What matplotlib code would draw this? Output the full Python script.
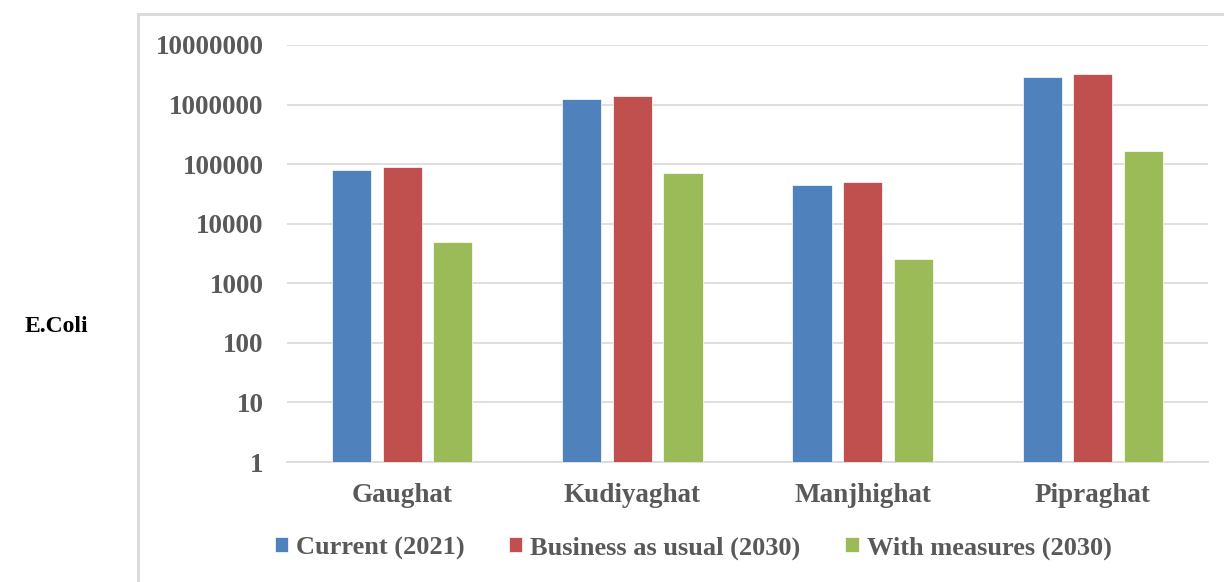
import matplotlib.pyplot as plt
import numpy as np
from matplotlib.ticker import FixedLocator, FixedFormatter

# data
sites = ['Gaughat', 'Kudiyaghat', 'Manjhighat', 'Pipraghat']
series_names = ['Current (2021)', 'Business as usual (2030)', 'With measures (2030)']
current_2021 = [80000, 1240000, 45000, 2900000]
bau_2030 = [90000, 1380000, 50000, 3200000]
measures_2030 = [4900, 71000, 2600, 166000]
y_ticks = [1, 10, 100, 1000, 10000, 100000, 1000000, 10000000]

colors = ['#4F81BD', '#C0504D', '#9BBB59']
text_gray = '#595959'
grid_gray = '#d9d9d9'

plt.rcParams['font.family'] = ['Liberation Serif', 'DejaVu Serif']
plt.rcParams['font.weight'] = 'bold'

fig = plt.figure(figsize=(12.24, 5.82), dpi=100)
ax = fig.add_axes([287 / 1224, 1 - 462 / 582, (1208 - 287) / 1224, (462 - 45) / 582])

x = np.arange(len(sites))
width = 0.17
offsets = [-0.22, 0.0, 0.22]
all_series = [current_2021, bau_2030, measures_2030]
for vals, off, col, name in zip(all_series, offsets, colors, series_names):
    ax.bar(x + off, vals, width, color=col, label=name, edgecolor='white', linewidth=0.5, zorder=3)

ax.set_yscale('log')
ax.set_ylim(1, 10000000)
ax.set_xlim(-0.5, 3.5)
ax.yaxis.set_major_locator(FixedLocator(y_ticks))
ax.yaxis.set_major_formatter(FixedFormatter([str(t) for t in y_ticks]))
ax.yaxis.set_minor_locator(FixedLocator([]))
ax.grid(axis='y', color=grid_gray, linewidth=1.2, zorder=0)
ax.set_xticks(x)
ax.set_xticklabels(sites)

for s in ['top', 'right', 'left']:
    ax.spines[s].set_visible(False)
ax.spines['bottom'].set_color(grid_gray)
ax.spines['bottom'].set_linewidth(1.2)
ax.tick_params(axis='both', length=0, labelsize=19.5, labelcolor=text_gray)
ax.tick_params(axis='y', pad=17)
ax.tick_params(axis='x', pad=15)

fig.legend(loc='center', bbox_to_anchor=(693 / 1224, 1 - 548 / 582), ncol=3,
           frameon=False, fontsize=19, handlelength=0.5, handleheight=0.5,
           handletextpad=0.3, columnspacing=1.7, labelcolor=text_gray)

fig.text(25 / 1224, 1 - 327 / 582, 'E.Coli', fontsize=17, fontweight='bold',
         color='black', ha='left', va='center')

# light gray frame around the chart area
fig.add_artist(plt.Line2D([138 / 1224, 138 / 1224], [1 - 14 / 582, 0], color=grid_gray,
                          linewidth=2, transform=fig.transFigure))
fig.add_artist(plt.Line2D([138 / 1224, 1], [1 - 14 / 582, 1 - 14 / 582], color=grid_gray,
                          linewidth=2, transform=fig.transFigure))

fig.savefig('out.png', dpi=100)
